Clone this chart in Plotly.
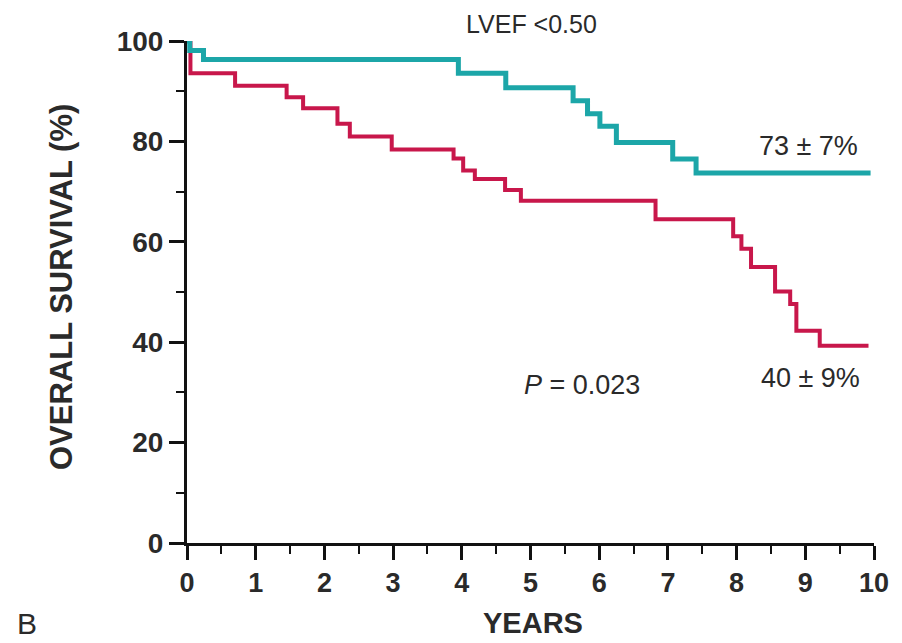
import plotly.graph_objects as go

# Kaplan-Meier step data (years, overall survival %)
teal_years = [0, 0.04, 0.24, 3.95, 4.64, 5.62, 5.83, 6.01, 6.25, 7.07, 7.41, 9.95]
teal_surv = [100, 98.1, 96.3, 93.6, 90.7, 88.1, 85.5, 83.0, 79.8, 76.5, 73.7, 73.7]

red_years = [0, 0.05, 0.70, 1.45, 1.69, 2.19, 2.37, 2.98, 3.88, 4.02, 4.19, 4.63,
             4.86, 6.82, 7.95, 8.07, 8.21, 8.56, 8.78, 8.87, 9.21, 9.92]
red_surv = [100, 93.6, 91.1, 88.8, 86.6, 83.5, 81.0, 78.4, 76.6, 74.2, 72.5, 70.3,
            68.2, 64.5, 61.1, 58.6, 55.0, 50.1, 47.6, 42.3, 39.3, 39.3]

x_ticks = list(range(0, 11))
y_ticks = [0, 20, 40, 60, 80, 100]

title_text = "LVEF <0.50"
teal_label = "73 ± 7%"
red_label = "40 ± 9%"
p_text = "<i>P</i> = 0.023"
panel_label = "B"
x_title = "YEARS"
y_title = "OVERALL SURVIVAL (%)"

# page body has an 8px default margin; compensate so the picture matches
OFF = 8
W, H = 902 - OFF, 643 - OFF
L, R, T, B = 187 - OFF, 874 - OFF, 41 - OFF, 543 - OFF

fig = go.Figure()
fig.add_trace(go.Scatter(x=red_years, y=red_surv, mode="lines", line_shape="hv",
                         line=dict(color="#c8174b", width=4), showlegend=False))
fig.add_trace(go.Scatter(x=teal_years, y=teal_surv, mode="lines", line_shape="hv",
                         line=dict(color="#1ca6a8", width=5), showlegend=False))


def pp(x, y):
    x -= OFF
    y -= OFF
    return (x - L) / (R - L), (B - y) / (B - T)


font_reg = "Liberation Sans, Arial, sans-serif"
annots = [
    (title_text, 531, 24, 25, False),
    (teal_label, 808, 146, 27, False),
    (red_label, 810, 378, 27, False),
    (p_text, 582, 385, 27, False),
    (panel_label, 27, 623, 30, False),
    (x_title, 533, 623, 29, True),
]
for txt, x, y, size, bold in annots:
    xp, yp = pp(x, y)
    fig.add_annotation(x=xp, y=yp, xref="paper", yref="paper", showarrow=False,
                       text=f"<b>{txt}</b>" if bold else txt,
                       font=dict(family=font_reg, size=size, color="#2a2a2a"),
                       xanchor="center", yanchor="middle", borderpad=0)

xp, yp = pp(61, 287)
fig.add_annotation(x=xp, y=yp, xref="paper", yref="paper", showarrow=False,
                   text=f"<b>{y_title}</b>", textangle=-90,
                   font=dict(family=font_reg, size=31, color="#2a2a2a"),
                   xanchor="center", yanchor="middle", borderpad=0)

fig.update_xaxes(range=[0, 10], tickvals=x_ticks, ticktext=[str(v) for v in x_ticks],
                 showline=True, linecolor="#111", linewidth=3, mirror=False,
                 ticks="outside", ticklen=14, tickwidth=2.5, tickcolor="#111",
                 minor=dict(ticks="outside", ticklen=8, tickwidth=2, tickcolor="#111", dtick=0.5),
                 showgrid=False, zeroline=False,
                 tickfont=dict(family=font_reg, size=27, color="#2a2a2a", weight="bold"))
fig.update_yaxes(range=[0, 100], tickvals=y_ticks, ticktext=[str(v) for v in y_ticks],
                 showline=True, linecolor="#111", linewidth=3, mirror=False,
                 ticks="outside", ticklen=15, tickwidth=2.5, tickcolor="#111",
                 minor=dict(ticks="outside", ticklen=8, tickwidth=2, tickcolor="#111", dtick=10),
                 showgrid=False, zeroline=False,
                 tickfont=dict(family=font_reg, size=28, color="#2a2a2a", weight="bold"))

fig.update_layout(width=W, height=H,
                  margin=dict(l=L, r=W - R, t=T, b=H - B, pad=0),
                  plot_bgcolor="white", paper_bgcolor="white")

fig.write_html("out.html")
